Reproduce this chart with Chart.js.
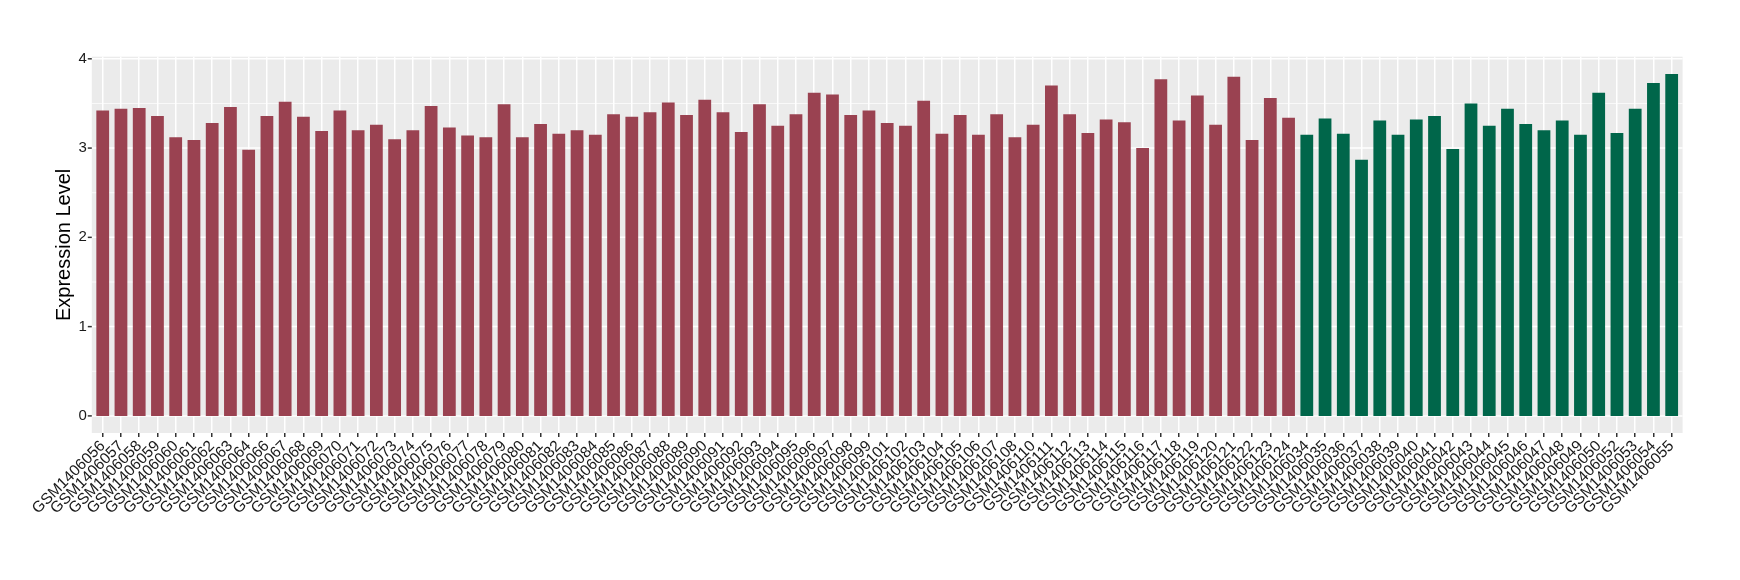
<!DOCTYPE html>
<html lang="en">
<head>
    <meta charset="UTF-8">
    <script src="https://cdn.jsdelivr.net/npm/chart.js"></script>
    <title>Expression Level</title>
    <style>
        body { margin: 0; background: #fff; }
        .grafico { width: 1740px; height: 580px; }
    </style>
</head>
<body>
    <div class="grafico">
        <canvas id="grafico_1" width="1740" height="580"></canvas>
    </div>

    <script>
        // red group samples
        const redSamples = ['GSM1406056', 'GSM1406057', 'GSM1406058', 'GSM1406059', 'GSM1406060', 'GSM1406061',
            'GSM1406062', 'GSM1406063', 'GSM1406064', 'GSM1406066', 'GSM1406067', 'GSM1406068', 'GSM1406069',
            'GSM1406070', 'GSM1406071', 'GSM1406072', 'GSM1406073', 'GSM1406074', 'GSM1406075', 'GSM1406076',
            'GSM1406077', 'GSM1406078', 'GSM1406079', 'GSM1406080', 'GSM1406081', 'GSM1406082', 'GSM1406083',
            'GSM1406084', 'GSM1406085', 'GSM1406086', 'GSM1406087', 'GSM1406088', 'GSM1406089', 'GSM1406090',
            'GSM1406091', 'GSM1406092', 'GSM1406093', 'GSM1406094', 'GSM1406095', 'GSM1406096', 'GSM1406097',
            'GSM1406098', 'GSM1406099', 'GSM1406101', 'GSM1406102', 'GSM1406103', 'GSM1406104', 'GSM1406105',
            'GSM1406106', 'GSM1406107', 'GSM1406108', 'GSM1406110', 'GSM1406111', 'GSM1406112', 'GSM1406113',
            'GSM1406114', 'GSM1406115', 'GSM1406116', 'GSM1406117', 'GSM1406118', 'GSM1406119', 'GSM1406120',
            'GSM1406121', 'GSM1406122', 'GSM1406123', 'GSM1406124'];
        const redValues = [3.42, 3.44, 3.45, 3.36, 3.12, 3.09,
            3.28, 3.46, 2.98, 3.36, 3.52, 3.35, 3.19,
            3.42, 3.20, 3.26, 3.10, 3.20, 3.47, 3.23,
            3.14, 3.12, 3.49, 3.12, 3.27, 3.16, 3.20,
            3.15, 3.38, 3.35, 3.40, 3.51, 3.37, 3.54,
            3.40, 3.18, 3.49, 3.25, 3.38, 3.62, 3.60,
            3.37, 3.42, 3.28, 3.25, 3.53, 3.16, 3.37,
            3.15, 3.38, 3.12, 3.26, 3.70, 3.38, 3.17,
            3.32, 3.29, 3.00, 3.77, 3.31, 3.59, 3.26,
            3.80, 3.09, 3.56, 3.34];

        // green group samples
        const greenSamples = ['GSM1406034', 'GSM1406035', 'GSM1406036', 'GSM1406037', 'GSM1406038', 'GSM1406039',
            'GSM1406040', 'GSM1406041', 'GSM1406042', 'GSM1406043', 'GSM1406044', 'GSM1406045', 'GSM1406046',
            'GSM1406047', 'GSM1406048', 'GSM1406049', 'GSM1406050', 'GSM1406052', 'GSM1406053', 'GSM1406054',
            'GSM1406055'];
        const greenValues = [3.15, 3.33, 3.16, 2.87, 3.31, 3.15,
            3.32, 3.36, 2.99, 3.50, 3.25, 3.44, 3.27,
            3.20, 3.31, 3.15, 3.62, 3.17, 3.44, 3.73,
            3.83];

        const yTicks = [0, 0.5, 1, 1.5, 2, 2.5, 3, 3.5, 4];

        const corVermelho = '#9A4251';
        const corVerde = '#00664A';

        const labelsX = redSamples.concat(greenSamples);
        const valores = redValues.concat(greenValues);
        const cores = redSamples.map(() => corVermelho).concat(greenSamples.map(() => corVerde));

        // panel a bit wider than the chart area (ggplot pads 0.6 category, chart.js 0.5)
        const painel = { left: 91.8, right: 1682.6, top: 56.7, bottom: 433 };
        const passo = (painel.right - painel.left) / (labelsX.length + 1.2);
        const extra = passo * 0.1;

        const fundoPainel = {
            id: 'fundoPainel',
            beforeDraw(chart) {
                const { ctx } = chart;
                const y = chart.scales.y;
                ctx.save();
                ctx.fillStyle = '#EBEBEB';
                ctx.fillRect(painel.left, painel.top, painel.right - painel.left, painel.bottom - painel.top);
                yTicks.forEach(v => {
                    const py = y.getPixelForValue(v);
                    const major = Number.isInteger(v);
                    ctx.strokeStyle = '#FFFFFF';
                    ctx.lineWidth = major ? 1.5 : 0.75;
                    ctx.beginPath();
                    ctx.moveTo(painel.left, py);
                    ctx.lineTo(painel.right, py);
                    ctx.stroke();
                    if (major) {
                        ctx.strokeStyle = '#333333';
                        ctx.beginPath();
                        ctx.moveTo(painel.left - 4, py);
                        ctx.lineTo(painel.left, py);
                        ctx.stroke();
                    }
                });
                ctx.restore();
            }
        };

        const ctx = document.getElementById('grafico_1');

        const grafico_1 = new Chart(ctx, {
            type: 'bar',
            data: {
                labels: labelsX,
                datasets: [{
                    data: valores,
                    backgroundColor: cores,
                    borderWidth: 0,
                    barPercentage: 0.7,
                    categoryPercentage: 1
                }]
            },
            plugins: [fundoPainel],
            options: {
                responsive: false,
                animation: false,
                layout: { padding: { top: painel.top, right: 1740 - painel.right + extra, bottom: 0, left: 0 } },
                plugins: {
                    legend: { display: false },
                    tooltip: { enabled: false }
                },
                scales: {
                    x: {
                        offset: true,
                        afterFit: (s) => { s.height = 580 - painel.bottom; },
                        grid: {
                            offset: false,
                            color: '#FFFFFF',
                            lineWidth: 1.5,
                            tickLength: 4,
                            tickColor: '#333333'
                        },
                        border: { display: false },
                        ticks: {
                            autoSkip: false,
                            maxRotation: 45,
                            minRotation: 45,
                            padding: 0,
                            labelOffset: 0,
                            color: '#1A1A1A',
                            font: { family: 'Liberation Sans', size: 15.5 }
                        }
                    },
                    y: {
                        min: -0.1916,
                        max: 4.0236,
                        afterFit: (s) => { s.width = painel.left + extra; },
                        afterBuildTicks: (s) => { s.ticks = yTicks.map(v => ({ value: v })); },
                        grid: { display: false, drawTicks: false, tickLength: 0 },
                        border: { display: false },
                        ticks: {
                            padding: 5 + extra,
                            color: '#1A1A1A',
                            font: { family: 'Liberation Sans', size: 15 },
                            callback: (v) => Number.isInteger(v) ? String(v) : ''
                        },
                        title: {
                            display: true,
                            text: 'Expression Level',
                            color: '#000000',
                            font: { family: 'Liberation Sans', size: 20 },
                            padding: { top: 52.6, bottom: 0 }
                        }
                    }
                }
            }
        });
    </script>
</body>
</html>
